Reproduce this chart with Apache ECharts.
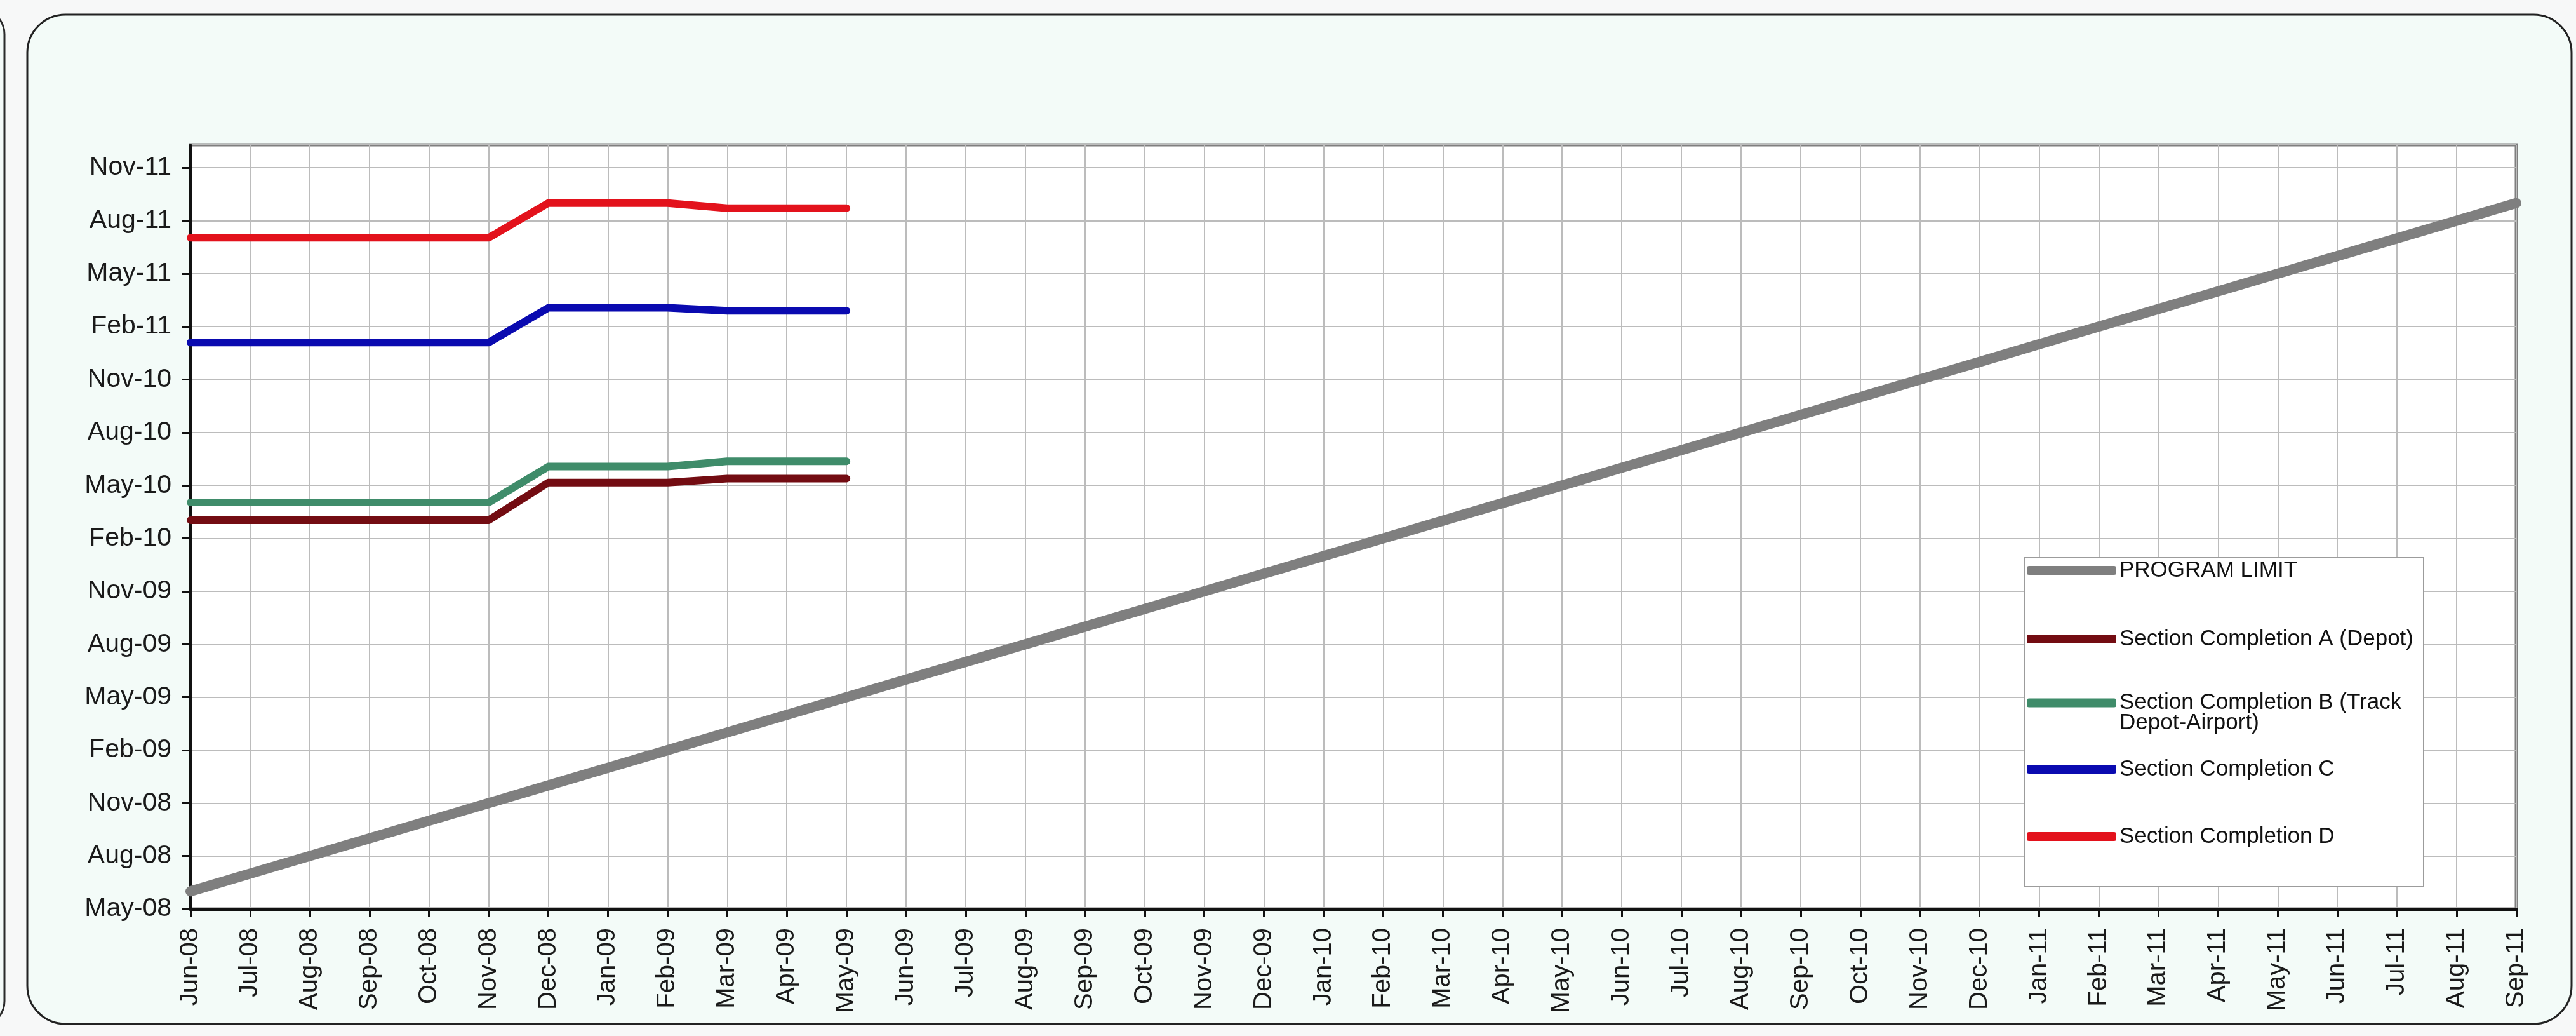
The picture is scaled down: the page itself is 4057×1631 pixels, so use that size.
<!DOCTYPE html>
<html>
<head>
<meta charset="utf-8">
<script src="https://cdn.jsdelivr.net/npm/echarts@6/dist/echarts.min.js"></script>
<style>
html,body{margin:0;padding:0;background:#f7f8f8;}
#chart{width:4057px;height:1631px;}
</style>
</head>
<body>
<div id="chart"></div>
<script>
// ---- categories (x axis) ----
const months = ['Jun-08','Jul-08','Aug-08','Sep-08','Oct-08','Nov-08','Dec-08','Jan-09','Feb-09','Mar-09','Apr-09','May-09',
  'Jun-09','Jul-09','Aug-09','Sep-09','Oct-09','Nov-09','Dec-09','Jan-10','Feb-10','Mar-10','Apr-10','May-10',
  'Jun-10','Jul-10','Aug-10','Sep-10','Oct-10','Nov-10','Dec-10','Jan-11','Feb-11','Mar-11','Apr-11','May-11',
  'Jun-11','Jul-11','Aug-11','Sep-11'];

// ---- y tick labels (every 3 months starting May-08) ----
const yTickLabels = ['May-08','Aug-08','Nov-08','Feb-09','May-09','Aug-09','Nov-09','Feb-10','May-10','Aug-10','Nov-10','Feb-11','May-11','Aug-11','Nov-11'];

// ---- series values (dates) ----
const programLimit = ['2008-06-01','2008-07-01','2008-08-01','2008-09-01','2008-10-01','2008-11-01','2008-12-01','2009-01-01','2009-02-01','2009-03-01','2009-04-01','2009-05-01',
  '2009-06-01','2009-07-01','2009-08-01','2009-09-01','2009-10-01','2009-11-01','2009-12-01','2010-01-01','2010-02-01','2010-03-01','2010-04-01','2010-05-01',
  '2010-06-01','2010-07-01','2010-08-01','2010-09-01','2010-10-01','2010-11-01','2010-12-01','2011-01-01','2011-02-01','2011-03-01','2011-04-01','2011-05-01',
  '2011-06-01','2011-07-01','2011-08-01','2011-09-01'];
const sectionA = ['2010-03-02','2010-03-02','2010-03-02','2010-03-02','2010-03-02','2010-03-02','2010-05-06','2010-05-06','2010-05-06','2010-05-13','2010-05-13','2010-05-13'];
const sectionB = ['2010-04-02','2010-04-02','2010-04-02','2010-04-02','2010-04-02','2010-04-02','2010-06-03','2010-06-03','2010-06-03','2010-06-12','2010-06-12','2010-06-12'];
const sectionC = ['2011-01-04','2011-01-04','2011-01-04','2011-01-04','2011-01-04','2011-01-04','2011-03-03','2011-03-03','2011-03-03','2011-02-26','2011-02-26','2011-02-26'];
const sectionD = ['2011-07-02','2011-07-02','2011-07-02','2011-07-02','2011-07-02','2011-07-02','2011-09-01','2011-09-01','2011-09-01','2011-08-23','2011-08-23','2011-08-23'];

const seriesNames = ['PROGRAM LIMIT','Section Completion A (Depot)','Section Completion B (Track\nDepot-Airport)','Section Completion C','Section Completion D'];

// convert a date string to months since May 2008 (value axis position)
function toMonthIndex(s){
  const p = s.split('-').map(Number);
  const dim = new Date(p[0], p[1], 0).getDate();
  return (p[0]-2008)*12 + (p[1]-5) + (p[2]-1)/dim;
}

const FONT = '"Liberation Sans", Arial, sans-serif';
const chart = echarts.init(document.getElementById('chart'));

function lineSeries(name, vals, color, width){
  return {
    name: name, type: 'line', symbol: 'none', smooth: false,
    data: vals.map(toMonthIndex),
    itemStyle: {color: color},
    lineStyle: {color: color, width: width, cap: 'round', join: 'round'},
    emphasis: {disabled: true}
  };
}

const legendBase = {
  orient: 'vertical', left: 3192, padding: 0,
  itemWidth: 141, itemHeight: 14,
  icon: 'roundRect', selectedMode: false,
  textStyle: {fontSize: 35, fontFamily: FONT, color: '#111', lineHeight: 42}
};

chart.setOption({
  animation: false,
  backgroundColor: '#f7f8f8',
  graphic: [
    {type:'rect', z:-5, silent:true, shape:{x:-120, y:14, width:127, height:1602, r:40},
     style:{fill:'#f3faf8', stroke:'#2a2a2a', lineWidth:3}},
    {type:'rect', z:-5, silent:true, shape:{x:43, y:23, width:4007, height:1589, r:60},
     style:{fill:'#f3fbf8', stroke:'#222', lineWidth:3}},
    // legend frame
    {type:'rect', z:3, silent:true, shape:{x:3189, y:878, width:628, height:518},
     style:{fill:'#ffffff', stroke:'#9c9c9c', lineWidth:2}}
  ],
  grid: {
    left: 300, right: 94, top: 228, bottom: 200,
    show: true, backgroundColor: '#ffffff', borderColor: '#7f7f7f', borderWidth: 5
  },
  xAxis: {
    type: 'category', data: months, boundaryGap: false,
    axisLine: {show: true, onZero: false, lineStyle: {color: '#111', width: 5}},
    axisTick: {show: true, interval: 0, length: 13, lineStyle: {color: '#111', width: 3}},
    axisLabel: {interval: 0, rotate: 90, margin: 30, fontSize: 40, fontFamily: FONT, color: '#1a1a1a'},
    splitLine: {show: true, interval: 0, lineStyle: {color: '#bcbcbc', width: 2}}
  },
  yAxis: {
    type: 'value', min: 0, max: 43.3, interval: 3,
    axisLine: {show: true, lineStyle: {color: '#111', width: 4}},
    axisTick: {show: true, length: 13, lineStyle: {color: '#111', width: 3}},
    axisLabel: {
      margin: 30, fontSize: 41, fontFamily: FONT, color: '#1a1a1a', showMaxLabel: false,
      formatter: function(v){ const k = Math.round(v/3); return (Math.abs(v - k*3) < 1e-6 && yTickLabels[k]) ? yTickLabels[k] : ''; }
    },
    splitLine: {show: true, lineStyle: {color: '#bcbcbc', width: 2}}
  },
  legend: [
    Object.assign({}, legendBase, {top: 877, itemGap: 66, data: [seriesNames[0], seriesNames[1]]}),
    // two-line entry: first text line aligned with the sample line (leading blank line keeps it there)
    Object.assign({}, legendBase, {top: 1057, data: [seriesNames[2]],
      textStyle: {fontSize: 35, fontFamily: FONT, color: '#111', lineHeight: 32},
      formatter: function(name){ return '\n' + name; }}),
    Object.assign({}, legendBase, {top: 1190, itemGap: 64, data: [seriesNames[3], seriesNames[4]]})
  ],
  series: [
    lineSeries(seriesNames[0], programLimit, '#7f7f7f', 16),
    lineSeries(seriesNames[1], sectionA, '#730c12', 12),
    lineSeries(seriesNames[2], sectionB, '#3f8c6a', 12),
    lineSeries(seriesNames[3], sectionC, '#0a0ab0', 12),
    lineSeries(seriesNames[4], sectionD, '#e3121c', 12)
  ]
});
</script>
</body>
</html>
